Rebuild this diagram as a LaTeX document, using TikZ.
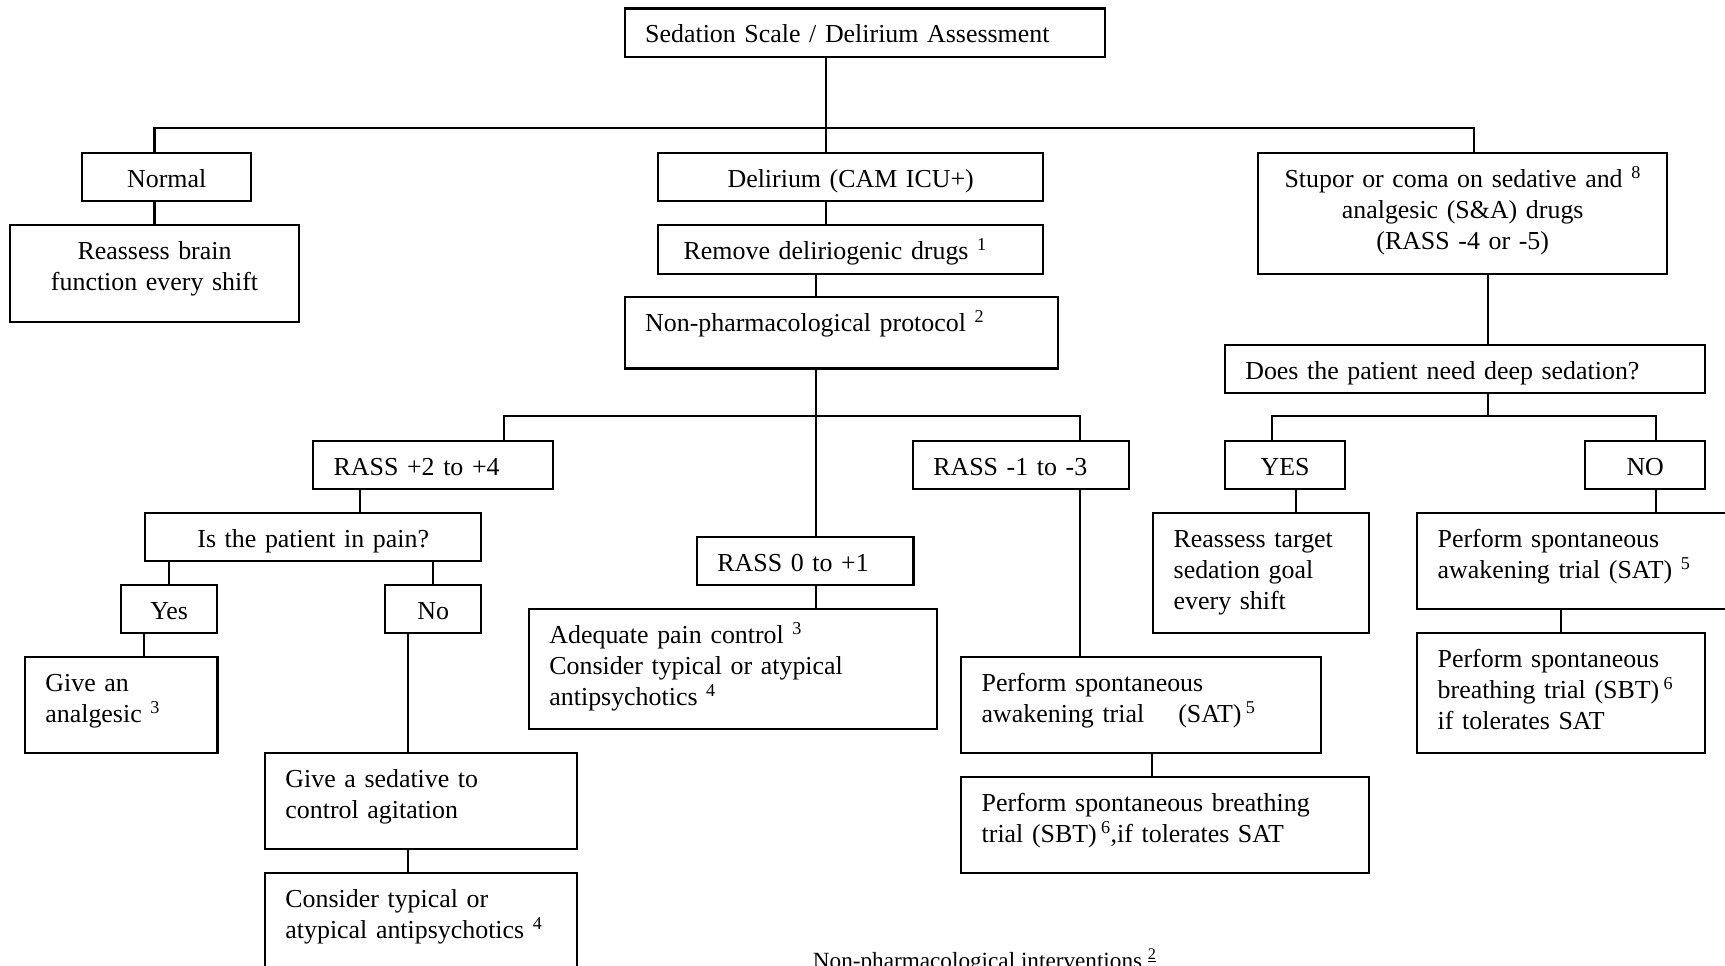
\documentclass[tikz,border=0pt]{standalone}
\usepackage{fontspec}
\setmainfont{Liberation Serif}

\begin{document}
\begin{tikzpicture}[x=1pt, y=-1pt, line width=2.4pt,
    box/.style 2 args={draw, anchor=north west, inner xsep=20.5pt, inner ysep=0pt,
        text width=#1pt-41pt, text height=34.5pt, text depth=#2pt-34.5pt,
        align=left, font=\fontsize{25.9}{30.7}\selectfont},
    mid/.style={align=center}]
        \useasboundingbox (0,0) rectangle (1725,966);
        \clip (0,0) rectangle (1725,966);
        \node[box={480.5}{48.7}]      (1)  at (623.5,7.3) {Sedation Scale / Delirium Assessment};
        \node[box={169}{48}, mid]     (2)  at (81,152)    {Normal};
        \node[box={288.7}{96.7}, mid] (3)  at (9,224)     {Reassess brain\\function every shift};
        \node[box={385}{48}, mid]     (4)  at (657,152)   {Delirium (CAM ICU+)};
        \node[box={385}{48.7}]        (5)  at (657,224)   {\hspace*{5pt}Remove deliriogenic drugs \textsuperscript{1}};
        \node[box={433}{71.4}]        (6)  at (623.5,296) {Non-pharmacological protocol \textsuperscript{2}};
        \node[box={409}{120.7}, mid]  (7)  at (1257,152)  {Stupor or coma on sedative and \textsuperscript{8}\\analgesic (S\&A) drugs\\(RASS -4 or -5)};
        \node[box={480.2}{48}]        (8)  at (1223.6,344) {Does the patient need deep sedation?};
        \node[box={240}{48}]          (9)  at (312,440)   {RASS +2 to +4};
        \node[box={336}{48}, mid]     (10) at (144,512)   {Is the patient in pain?};
        \node[box={96}{48}, mid]      (11) at (120,584)   {Yes};
        \node[box={96}{48}, mid]      (12) at (384,584)   {No};
        \node[box={192.5}{96}]        (13) at (23.7,656)  {Give an\\analgesic \textsuperscript{3}};
        \node[box={312.3}{96}]        (14) at (263.7,752) {Give a sedative to\\control agitation};
        \node[box={312.3}{120}]       (15) at (263.7,872) {Consider typical or\\atypical antipsychotics \textsuperscript{4}};
        \node[box={216.6}{48}]        (16) at (695.7,536) {RASS 0 to +1};
        \node[box={408.3}{120}]       (17) at (527.7,608) {Adequate pain control \textsuperscript{3}\\Consider typical or atypical\\antipsychotics \textsuperscript{4}};
        \node[box={216.4}{48}]        (18) at (911.6,440) {RASS -1 to -3};
        \node[box={360}{96}]          (19) at (960,656)   {Perform spontaneous\\awakening trial\hspace{34pt}(SAT)\,\textsuperscript{5}};
        \node[box={408}{96}]          (20) at (960,776)   {Perform spontaneous breathing\\trial (SBT)\,\textsuperscript{6},if tolerates SAT};
        \node[box={119.7}{48}, mid]   (21) at (1224,440)  {YES};
        \node[box={120}{48}, mid]     (22) at (1584,440)  {NO};
        \node[box={216}{120}]         (23) at (1152,512)  {Reassess target\\sedation goal\\every shift};
        \node[box={324}{96}]          (24) at (1416,512)  {Perform spontaneous\\awakening trial (SAT) \textsuperscript{5}};
        \node[box={288}{120}]         (25) at (1416,632)  {Perform spontaneous\\breathing trial (SBT)\,\textsuperscript{6}\\if tolerates SAT};
        \node[anchor=base west, inner sep=0pt, font=\fontsize{23.2}{28}\selectfont] (26) at (811.7,968.6) {Non-pharmacological interventions \textsuperscript{\underline{2}}};
        \coordinate (b1) at (826,128);
        \coordinate (b2) at (816,416);
        \coordinate (b3) at (1488,416);
        \draw (1.south -| b1) -- (4.north -| b1);
        \draw (2.north -| 3.north) |- (b1) -| (7.north -| 1474,0);
        \draw (2.south -| 3.north) -- (3.north);
        \draw (4.south -| b1) -- (5.north -| b1);
        \draw (5.south -| b2) -- (6.north -| b2);
        \draw (6.south -| b2) -- (16.north -| b2);
        \draw (9.north -| 504,0) |- (b2) -| (18.north -| 1080,0);
        \draw (9.south -| 360,0) -- (10.north -| 360,0);
        \draw (11.north) -- (11.north |- 10.south);
        \draw (12.north) -- (12.north |- 10.south);
        \draw (11.south -| 144,0) -- (13.north -| 144,0);
        \draw (12.south -| 408,0) -- (14.north -| 408,0);
        \draw (14.south -| 408,0) -- (15.north -| 408,0);
        \draw (16.south -| b2) -- (17.north -| b2);
        \draw (18.south -| 1080,0) -- (19.north -| 1080,0);
        \draw (19.south -| 1152,0) -- (20.north -| 1152,0);
        \draw (7.south -| b3) -- (8.north -| b3);
        \draw (8.south -| b3) -- (b3);
        \draw (21.north -| 1272,0) |- (b3) -| (22.north -| 1656,0);
        \draw (21.south -| 1296,0) -- (23.north -| 1296,0);
        \draw (22.south -| 1656,0) -- (24.north -| 1656,0);
        \draw (24.south -| 25.north) -- (25.north);
    \end{tikzpicture}
\end{document}
